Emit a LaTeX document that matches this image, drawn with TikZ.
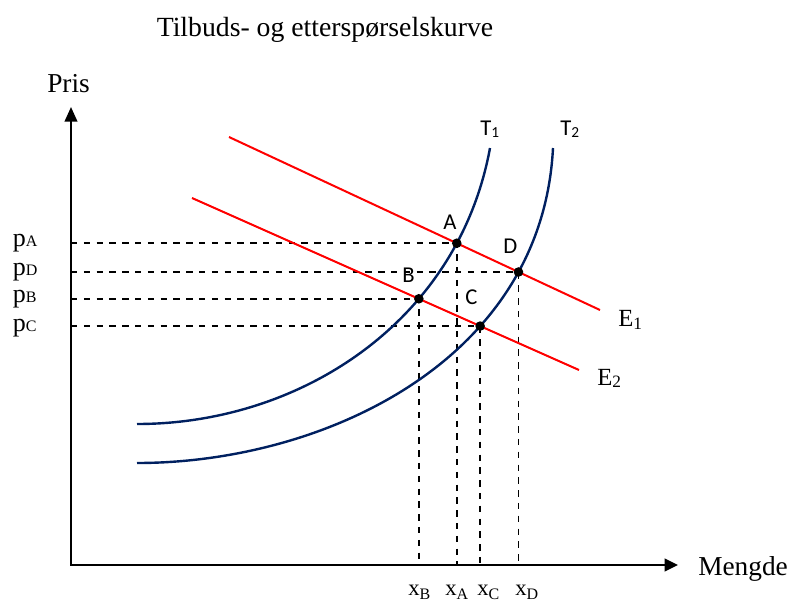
\documentclass[tikz,border=0pt]{standalone}
\usepackage{fontspec}
\setmainfont{Liberation Serif}
\newfontfamily\calfont{Carlito}
\usetikzlibrary{arrows.meta,intersections}
\newcommand{\fsz}[1]{\fontsize{#1}{#1}\selectfont}
\definecolor{navy}{RGB}{0,32,96}
\begin{document}
\begin{tikzpicture}[x=0.75pt,y=-0.75pt,
  axes/.style={line width=1.5pt, line join=miter,
    {Triangle[length=11pt,width=9.5pt]}-{Triangle[length=10pt,width=9.5pt]}},
  supply/.style={line width=1.8pt, draw=navy},
  demand/.style={line width=1.5pt, draw=red},
  guide/.style={line width=1.2pt, dash pattern=on 4.8pt off 4.8pt},
  lbl/.style={anchor=base west, inner sep=0pt},
  dot/.style={circle, fill=black, inner sep=0pt, minimum size=7.2pt}]
\useasboundingbox (0,0) rectangle (789,604);
\coordinate (O) at (71,565);
\coordinate (ytip) at (71,107);
\coordinate (xtip) at (678,565);
% curves
\path[name path=T1] (137,424) .. controls (300,424) and (458,322) .. (490,148);
\path[name path=T2] (137,463) .. controls (322,463) and (542,362) .. (553,148);
\path[name path=E1] (229,137) -- (600,310);
\path[name path=E2] (192,198) -- (579,370);
\path[name intersections={of=T1 and E1, by=A}];
\path[name intersections={of=T1 and E2, by=B}];
\path[name intersections={of=T2 and E2, by=C}];
\path[name intersections={of=T2 and E1, by=D}];
% guides
\draw[guide] (O |- A) -- (A) -- (A |- O);
\draw[guide] (O |- B) -- (B) -- (B |- O);
\draw[guide] (O |- C) -- (C) -- (C |- O);
\draw[guide] (O |- D) -- (D) -- (D |- O);
% axes
\draw[axes] (ytip) -- (O) -- (xtip);
% supply and demand
\draw[supply] (137,424) .. controls (300,424) and (458,322) .. (490,148);
\draw[supply] (137,463) .. controls (322,463) and (542,362) .. (553,148);
\draw[demand] (229,137) -- (600,310);
\draw[demand] (192,198) -- (579,370);
% dots
\node[dot] (dA) at (A) {};
\node[dot] (dB) at (B) {};
\node[dot] (dC) at (C) {};
\node[dot] (dD) at (D) {};
% texts
\node[anchor=base] (title) at (325,36) {\fsz{20.8pt}Tilbuds- og etterspørselskurve};
\node[lbl] (pris) at (47,92) {\fsz{20.5pt}Pris};
\node[lbl] (mengde) at (698,575) {\fsz{20.5pt}Mengde};
\node[lbl] (pA) at (12.5,246.5) {\fsz{19.5pt}p{\fsz{12pt}A}};
\node[lbl] (pD) at (12.5,275) {\fsz{19.5pt}p{\fsz{12pt}D}};
\node[lbl] (pB) at (12.5,302) {\fsz{19.5pt}p{\fsz{12pt}B}};
\node[lbl] (pC) at (12.5,331) {\fsz{19.5pt}p{\fsz{12pt}C}};
\node[lbl] (xB) at (408,595) {\fsz{17pt}x\raisebox{-3.5pt}{\fsz{12pt}B}};
\node[lbl] (xA) at (445,595) {\fsz{17pt}x\raisebox{-3.5pt}{\fsz{12pt}A}};
\node[lbl] (xC) at (477,595) {\fsz{17pt}x\raisebox{-3.5pt}{\fsz{12pt}C}};
\node[lbl] (xD) at (515,595) {\fsz{17pt}x\raisebox{-3.5pt}{\fsz{12pt}D}};
\node[lbl] (E1) at (618,326.5) {\fsz{18.5pt}E\raisebox{-2.2pt}{\fsz{13pt}1}};
\node[lbl] (E2) at (597,385) {\fsz{18.5pt}E\raisebox{-2.2pt}{\fsz{13pt}2}};
\node[lbl] (T1) at (480,135) {\calfont\fsz{17pt}T\raisebox{-1.8pt}{\fsz{11.5pt}1}};
\node[lbl] (T2) at (560,135) {\calfont\fsz{17pt}T\raisebox{-1.8pt}{\fsz{11.5pt}2}};
\node[lbl] (lA) at (443,229) {\calfont\fsz{17pt}A};
\node[lbl] (lD) at (503,253) {\calfont\fsz{17pt}D};
\node[lbl] (lB) at (402,282) {\calfont\fsz{17pt}B};
\node[lbl] (lC) at (465,304) {\calfont\fsz{17pt}C};
\end{tikzpicture}
\end{document}
